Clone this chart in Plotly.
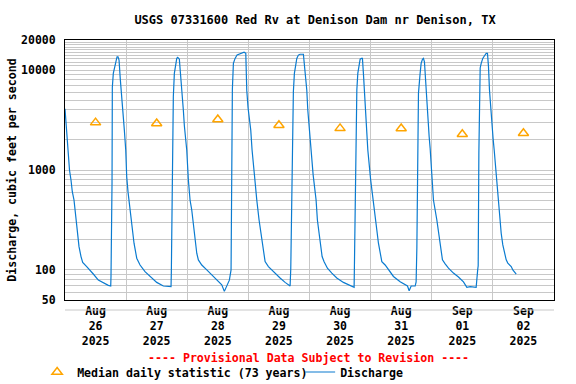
import math
import plotly.graph_objects as go

TITLE = "USGS 07331600 Red Rv at Denison Dam nr Denison, TX"
Y_TITLE = "Discharge, cubic feet per second"
PROVISIONAL = "---- Provisional Data Subject to Revision ----"

discharge_time = [
    "2025-08-26 00:00", "2025-08-26 00:35", "2025-08-26 01:06", "2025-08-26 01:46", "2025-08-26 02:21",
    "2025-08-26 02:52", "2025-08-26 03:32", "2025-08-26 04:19", "2025-08-26 04:50", "2025-08-26 05:30",
    "2025-08-26 06:17", "2025-08-26 06:57", "2025-08-26 08:31", "2025-08-26 09:49", "2025-08-26 11:07",
    "2025-08-26 13:05", "2025-08-26 15:03", "2025-08-26 17:00", "2025-08-26 17:57", "2025-08-26 18:04",
    "2025-08-26 18:28", "2025-08-26 18:35", "2025-08-26 18:58", "2025-08-26 19:22", "2025-08-26 19:55",
    "2025-08-26 20:26", "2025-08-26 20:49", "2025-08-26 21:13", "2025-08-26 21:43", "2025-08-26 22:16",
    "2025-08-26 22:47", "2025-08-26 23:18", "2025-08-26 23:51",
    "2025-08-27 00:14", "2025-08-27 00:45", "2025-08-27 01:20", "2025-08-27 02:12", "2025-08-27 03:06",
    "2025-08-27 04:10", "2025-08-27 05:28", "2025-08-27 07:25", "2025-08-27 09:23", "2025-08-27 12:01",
    "2025-08-27 14:37", "2025-08-27 17:38", "2025-08-27 17:45", "2025-08-27 18:09", "2025-08-27 18:32",
    "2025-08-27 18:56", "2025-08-27 19:29", "2025-08-27 19:53", "2025-08-27 20:16", "2025-08-27 20:54",
    "2025-08-27 21:17", "2025-08-27 21:50", "2025-08-27 22:28", "2025-08-27 22:52", "2025-08-27 23:25",
    "2025-08-27 23:48",
    "2025-08-28 00:26", "2025-08-28 01:06", "2025-08-28 01:46", "2025-08-28 02:24", "2025-08-28 03:04",
    "2025-08-28 03:44", "2025-08-28 04:22", "2025-08-28 05:42", "2025-08-28 07:40", "2025-08-28 09:37",
    "2025-08-28 11:35", "2025-08-28 13:33", "2025-08-28 14:34", "2025-08-28 15:31", "2025-08-28 16:32",
    "2025-08-28 17:12", "2025-08-28 17:24", "2025-08-28 17:43", "2025-08-28 18:07", "2025-08-28 18:47",
    "2025-08-28 19:34", "2025-08-28 20:21", "2025-08-28 21:15", "2025-08-28 22:19", "2025-08-28 22:59",
    "2025-08-28 23:22", "2025-08-28 23:53",
    "2025-08-29 00:23", "2025-08-29 00:56", "2025-08-29 01:27", "2025-08-29 02:26", "2025-08-29 03:18",
    "2025-08-29 04:12", "2025-08-29 05:16", "2025-08-29 05:53", "2025-08-29 06:34", "2025-08-29 07:52",
    "2025-08-29 09:49", "2025-08-29 12:27", "2025-08-29 14:25", "2025-08-29 16:23", "2025-08-29 16:39",
    "2025-08-29 17:10", "2025-08-29 17:40", "2025-08-29 18:04", "2025-08-29 18:37", "2025-08-29 19:01",
    "2025-08-29 19:38", "2025-08-29 20:19", "2025-08-29 21:36", "2025-08-29 22:00", "2025-08-29 22:33",
    "2025-08-29 22:56", "2025-08-29 23:20", "2025-08-29 23:50",
    "2025-08-30 00:14", "2025-08-30 01:25", "2025-08-30 02:35", "2025-08-30 03:06", "2025-08-30 03:46",
    "2025-08-30 04:26", "2025-08-30 04:57", "2025-08-30 05:44", "2025-08-30 07:02", "2025-08-30 08:46",
    "2025-08-30 10:43", "2025-08-30 13:19", "2025-08-30 15:57", "2025-08-30 17:31", "2025-08-30 17:38",
    "2025-08-30 17:55", "2025-08-30 18:14", "2025-08-30 18:35", "2025-08-30 18:58", "2025-08-30 19:29",
    "2025-08-30 19:53", "2025-08-30 20:23", "2025-08-30 20:47", "2025-08-30 21:10", "2025-08-30 21:43",
    "2025-08-30 22:07", "2025-08-30 22:30", "2025-08-30 22:54",
    "2025-08-31 00:00", "2025-08-31 01:06", "2025-08-31 01:46", "2025-08-31 02:26", "2025-08-31 03:04",
    "2025-08-31 03:44", "2025-08-31 04:24", "2025-08-31 05:42", "2025-08-31 07:00", "2025-08-31 08:58",
    "2025-08-31 11:35", "2025-08-31 13:33", "2025-08-31 14:28", "2025-08-31 15:08", "2025-08-31 15:55",
    "2025-08-31 17:29", "2025-08-31 17:52", "2025-08-31 18:09", "2025-08-31 18:23", "2025-08-31 18:47",
    "2025-08-31 19:26", "2025-08-31 19:50", "2025-08-31 20:21", "2025-08-31 20:44", "2025-08-31 21:08",
    "2025-08-31 21:41", "2025-08-31 22:05", "2025-08-31 22:28", "2025-08-31 22:59", "2025-08-31 23:22",
    "2025-09-01 00:02", "2025-09-01 00:40", "2025-09-01 02:00", "2025-09-01 02:38", "2025-09-01 03:18",
    "2025-09-01 04:12", "2025-09-01 05:16", "2025-09-01 06:34", "2025-09-01 08:31", "2025-09-01 10:29",
    "2025-09-01 12:27", "2025-09-01 13:47", "2025-09-01 15:05", "2025-09-01 17:03", "2025-09-01 17:26",
    "2025-09-01 18:02", "2025-09-01 18:14", "2025-09-01 18:30", "2025-09-01 18:44", "2025-09-01 19:01",
    "2025-09-01 19:25", "2025-09-01 20:02", "2025-09-01 20:43", "2025-09-01 21:23", "2025-09-01 21:53",
    "2025-09-01 22:17", "2025-09-01 22:40", "2025-09-01 23:04", "2025-09-01 23:35",
    "2025-09-02 00:08", "2025-09-02 00:31", "2025-09-02 01:26", "2025-09-02 02:13", "2025-09-02 02:36",
    "2025-09-02 03:16", "2025-09-02 03:54", "2025-09-02 04:34", "2025-09-02 05:14", "2025-09-02 05:52",
    "2025-09-02 07:12", "2025-09-02 07:50", "2025-09-02 09:10",
]
discharge_cfs = [
    4100, 2600, 1600, 1000, 794,
    606, 501, 316, 234, 171,
    136, 119, 108, 98, 91,
    79, 74, 70, 69, 87,
    750, 6720, 9270, 10540, 12100,
    13600, 13600, 12600, 8070, 5620,
    3690, 2510, 1585,
    857, 600, 450, 293, 185,
    131, 112, 96, 86, 75,
    69, 68, 93, 800, 5410,
    9270, 12100, 13090, 13400, 12840,
    9620, 5620, 3980, 2770, 2000,
    1585,
    800, 501, 398, 293, 200,
    147, 126, 112, 100, 89,
    79, 71, 61, 69, 79,
    100, 700, 6410, 11660, 13090,
    14140, 14450, 14900, 15100, 14700,
    6300, 4170,
    3310, 2510, 1585, 800, 501,
    316, 200, 147, 121, 108,
    96, 83, 75, 69, 104,
    900, 6070, 9270, 11660, 13090,
    14130, 14400, 14400, 11660, 8570,
    6310, 3980, 2820,
    2150, 900, 501, 316, 233,
    178, 136, 121, 104, 93,
    83, 75, 70, 67, 108,
    400, 1500, 6310, 9270, 11660,
    12840, 13090, 13090, 9270, 5010,
    3980, 2770, 1585,
    800, 501, 355, 251, 185,
    141, 121, 112, 100, 86,
    76, 71, 69, 62, 69,
    69, 76, 165, 1000, 5850,
    9270, 11660, 12840, 13090, 12100,
    6800, 4820, 3160, 2150, 1650,
    800, 501, 316, 233, 171,
    126, 115, 104, 93, 85,
    76, 67, 68, 67, 67,
    100, 110, 1500, 8000, 10500,
    11660, 13090, 13900, 14700, 14700,
    10770, 6310, 4290, 2930,
    2000, 1585, 800, 501, 369,
    233, 178, 147, 126, 117,
    108, 100, 91,
]

median_time = ["2025-08-26 12:00", "2025-08-27 12:00", "2025-08-28 12:00", "2025-08-29 12:00",
               "2025-08-30 12:00", "2025-08-31 12:00", "2025-09-01 12:00", "2025-09-02 12:00"]
median_cfs = [2980, 2920, 3200, 2800, 2610, 2600, 2280, 2330]

day_ticks = median_time
day_tick_text = ["Aug<br>26<br>2025", "Aug<br>27<br>2025", "Aug<br>28<br>2025", "Aug<br>29<br>2025",
                 "Aug<br>30<br>2025", "Aug<br>31<br>2025", "Sep<br>01<br>2025", "Sep<br>02<br>2025"]
day_bounds = ["2025-08-27", "2025-08-28", "2025-08-29", "2025-08-30",
              "2025-08-31", "2025-09-01", "2025-09-02"]
x_range = ["2025-08-26 00:00", "2025-09-03 00:00"]

y_ticks = [50, 100, 1000, 10000, 20000]
y_tick_text = ["50", "100", "1000", "10000", "20000"]
y_minor = ([v * 10 for v in range(6, 10)] + [v * 100 for v in range(2, 10)]
           + [v * 1000 for v in range(2, 10)] + [v * 1000 for v in range(11, 20)])

FONT = "DejaVu Sans Mono"
GRID = "#c8c8c8"
BLUE = "#0a7bd0"
ORANGE = "#ffa500"

fig = go.Figure()
fig.add_trace(go.Scatter(
    x=median_time, y=median_cfs, mode="markers",
    name="Median daily statistic (73 years)",
    marker=dict(symbol="triangle-up-open", size=9, color=ORANGE,
                line=dict(width=1.5, color=ORANGE)),
))
fig.add_trace(go.Scatter(
    x=discharge_time, y=discharge_cfs, mode="lines", name="Discharge",
    line=dict(color=BLUE, width=1.2),
))

fig.update_layout(
    width=576, height=384,
    margin=dict(l=65, r=22, t=40, b=84, autoexpand=False),
    paper_bgcolor="white", plot_bgcolor="white",
    font=dict(family=FONT, size=11.5, color="black", weight="bold"),
    title=dict(text=TITLE, x=315 / 576, xanchor="center", xref="container",
               y=1 - 20 / 384, yanchor="middle", yref="container",
               font=dict(family=FONT, size=12, color="black", weight="bold")),
    showlegend=True,
    legend=dict(orientation="h", x=-0.057, xanchor="left", y=-0.277, yanchor="middle",
                font=dict(family=FONT, size=11.6, color="black", weight="bold"),
                entrywidth=218, entrywidthmode="pixels", bgcolor="rgba(0,0,0,0)",
                borderwidth=0, itemclick=False),
    xaxis=dict(
        type="date", range=x_range, tickmode="array", tickvals=day_ticks, ticktext=day_tick_text,
        showgrid=False, zeroline=False, ticks="", showline=True, linecolor="black", linewidth=1,
        mirror=True, tickangle=0, automargin=False,
        tickfont=dict(family=FONT, size=11.5, color="black", weight="bold"),
        minor=dict(tickmode="array", tickvals=day_bounds, showgrid=True, gridcolor=GRID,
                   gridwidth=1, ticks=""),
    ),
    yaxis=dict(
        type="log", range=[math.log10(50), math.log10(20000)], tickmode="array",
        tickvals=y_ticks, ticktext=y_tick_text, showgrid=True, gridcolor=GRID, gridwidth=1,
        zeroline=False, ticks="", showline=True, linecolor="black", linewidth=1, mirror=True,
        ticklabelstandoff=6, automargin=False,
        tickfont=dict(family=FONT, size=11.5, color="black", weight="bold"),
        minor=dict(tickmode="array", tickvals=y_minor, showgrid=True, gridcolor=GRID,
                   gridwidth=1, ticks=""),
        title=dict(text=Y_TITLE, standoff=2,
                   font=dict(family=FONT, size=11.6, color="black", weight="bold")),
    ),
)

fig.add_shape(type="line", xref="paper", yref="paper", x0=0, x1=1, y0=-10 / 260, y1=-10 / 260,
              line=dict(color=GRID, width=1))

fig.add_annotation(text=PROVISIONAL, xref="paper", yref="paper", x=0.498, y=-58 / 260,
                   xanchor="center", yanchor="middle", showarrow=False,
                   font=dict(family=FONT, size=11.6, color="red", weight="bold"))

fig.write_html("out.html", config={"displayModeBar": False},
               post_script="document.body.style.margin='0';document.body.style.padding='0';")
